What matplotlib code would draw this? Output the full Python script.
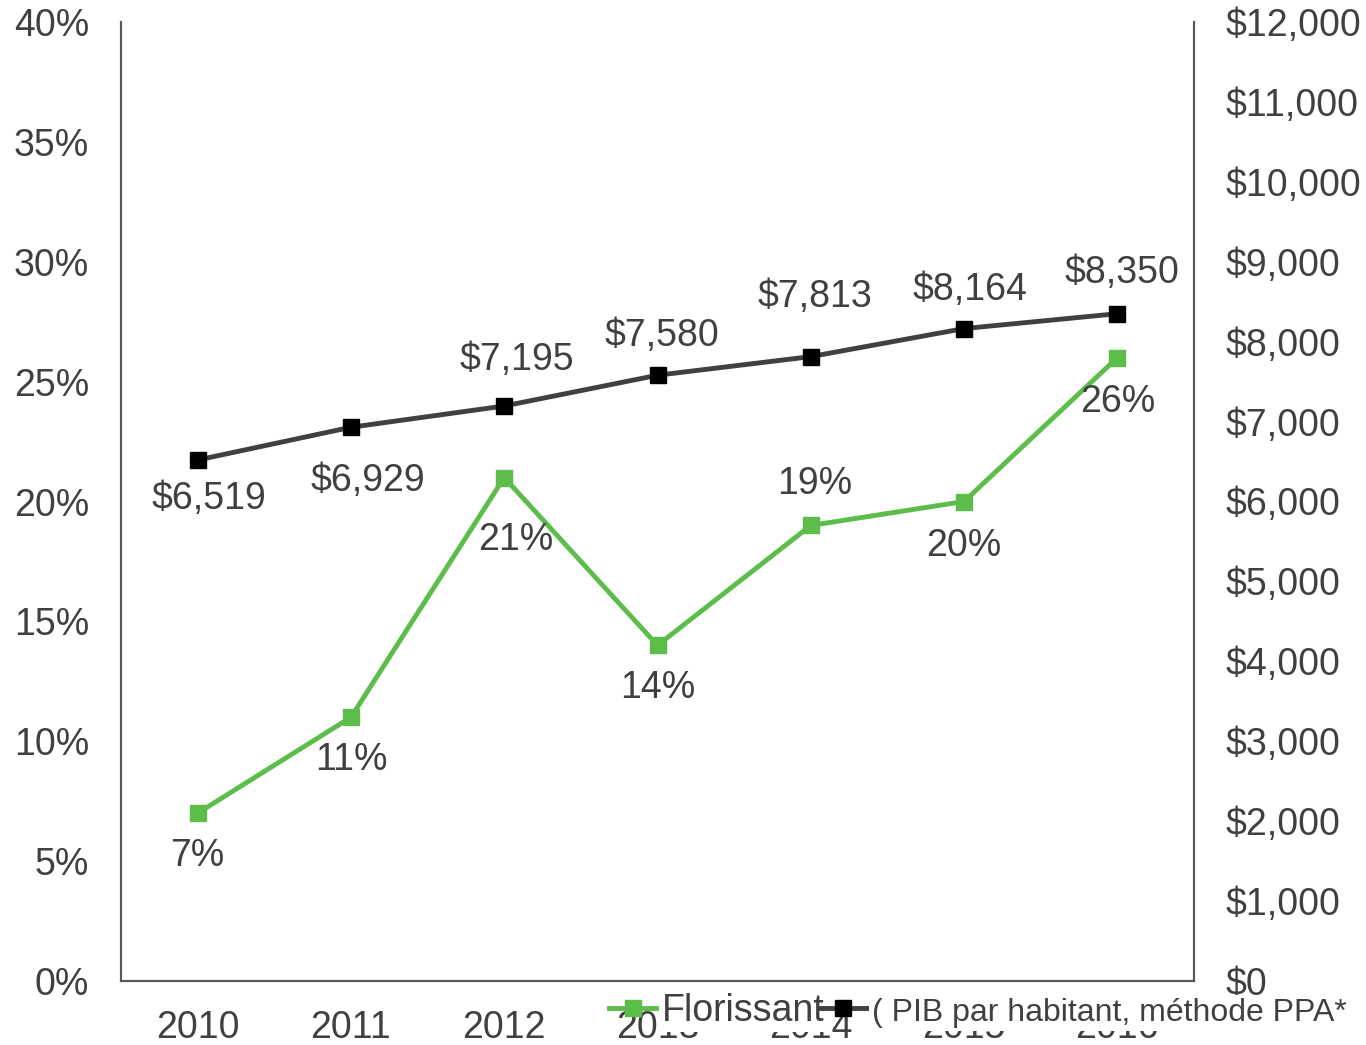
import matplotlib
matplotlib.use("Agg")
from matplotlib import pyplot as plt
from matplotlib.ticker import FuncFormatter

plt.rcParams["font.family"] = ["Liberation Sans", "DejaVu Sans"]

years = ["2010", "2011", "2012", "2013", "2014", "2015", "2016"]
florissant = [7, 11, 21, 14, 19, 20, 26]
pib = [6519, 6929, 7195, 7580, 7813, 8164, 8350]

green = "#5cbd4b"
dark = "#404040"
txt = "#404040"
spine = "#595959"
fs = 27

fig = plt.figure(figsize=(13.66, 10.45), dpi=100)
ax = fig.add_axes([121 / 1366, 1 - 981 / 1045, 1073 / 1366, 959 / 1045])
ax2 = ax.twinx()

x = list(range(len(years)))
l1, = ax.plot(x, florissant, color=green, lw=3.5, marker="s", ms=11, mfc=green, mec=green, zorder=3)
l2, = ax2.plot(x, pib, color=dark, lw=3.5, marker="s", ms=11, mfc="black", mec="black", zorder=3)

ax.set_xlim(-0.5, 6.5)
ax.set_ylim(0, 40)
ax2.set_ylim(0, 12000)
ax.set_yticks(range(0, 41, 5))
ax2.set_yticks(range(0, 12001, 1000))
ax.yaxis.set_major_formatter(FuncFormatter(lambda v, p: f"{v:.0f}%"))
ax2.yaxis.set_major_formatter(FuncFormatter(lambda v, p: f"${v:,.0f}"))
ax.set_xticks(x)
ax.set_xticklabels(years)

for a in (ax, ax2):
    a.tick_params(length=0, labelsize=fs, colors=txt, pad=23)
    a.spines["top"].set_visible(False)
    for s in ("left", "right", "bottom"):
        a.spines[s].set_color(spine)
        a.spines[s].set_linewidth(1.5)
ax.tick_params(axis="x", pad=21)

# data label offsets (points)
g_off = [(0, -31), (0, -31), (8, -45), (0, -31), (3, 30), (0, -32), (0, -32)]
b_off = [(8, -28), (12, -39), (9, 33), (3, 28), (3, 43), (4, 28), (3, 29)]
for i in x:
    ax.annotate(f"{florissant[i]}%", (i, florissant[i]), xytext=g_off[i], textcoords="offset points",
                ha="center", va="center", fontsize=fs, color=txt)
    ax2.annotate(f"${pib[i]:,}", (i, pib[i]), xytext=b_off[i], textcoords="offset points",
                 ha="center", va="center", fontsize=fs, color=txt)

# legend sits over the last x tick labels, each text on its own white patch
leg = fig.legend([l1, l2], ["Florissant", "( PIB par habitant, méthode PPA*"], ncol=2,
                 loc="center left", bbox_to_anchor=(601 / 1366, 1 - 1011 / 1045),
                 frameon=False, fontsize=fs, handlelength=1.3, handletextpad=0.12,
                 columnspacing=-0.16, borderpad=0.2, borderaxespad=0)
leg.set_zorder(10)
for t in leg.get_texts():
    t.set_color(txt)
    t.set_bbox(dict(facecolor="white", edgecolor="none", boxstyle="square,pad=0.08"))
leg.get_texts()[1].set_fontsize(23)

fig.savefig("out.png", dpi=100)
